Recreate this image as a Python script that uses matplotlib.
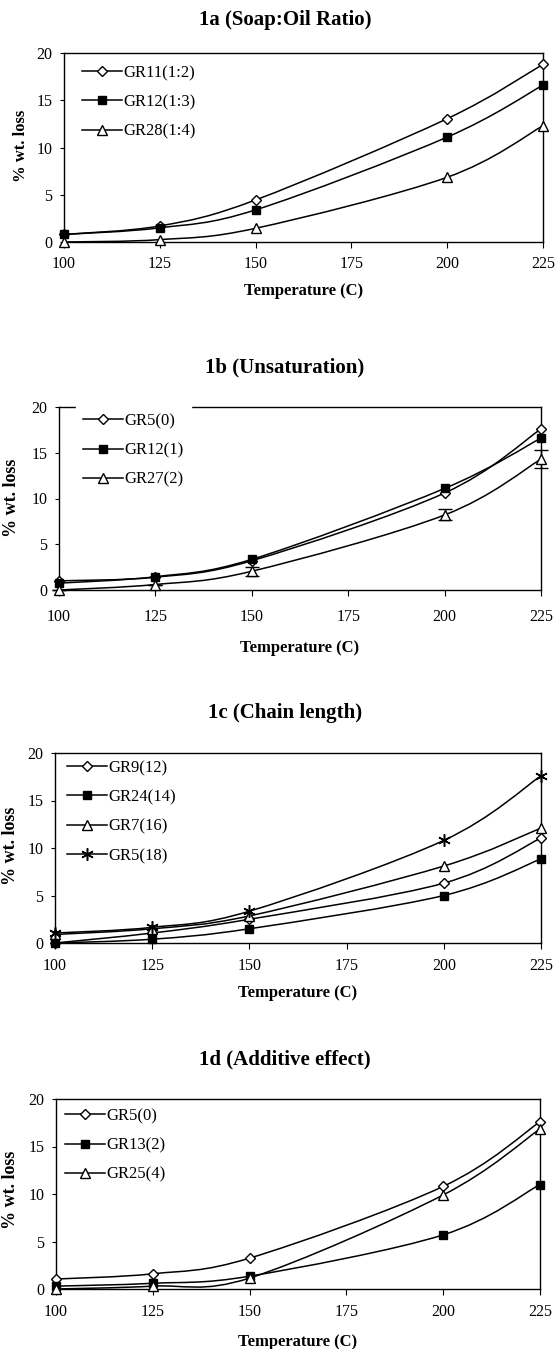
import matplotlib
matplotlib.use("Agg")
import matplotlib.pyplot as plt
from matplotlib.path import Path
from matplotlib.patches import PathPatch
from matplotlib.lines import Line2D
from matplotlib.transforms import Bbox, TransformedBbox

plt.rcParams['font.family'] = ['Liberation Serif', 'DejaVu Serif']

# ---------------- data ----------------
temps = [100, 125, 150, 200, 225]

# 1a Soap:Oil ratio
a_labels = ["GR11(1:2)", "GR12(1:3)", "GR28(1:4)"]
a_gr11 = [0.8, 1.7, 4.45, 13.05, 18.8]
a_gr12 = [0.8, 1.5, 3.4, 11.1, 16.6]
a_gr28 = [0.0, 0.25, 1.45, 6.85, 12.3]

# 1b Unsaturation
b_labels = ["GR5(0)", "GR12(1)", "GR27(2)"]
b_gr5 = [1.0, 1.4, 3.2, 10.6, 17.6]
b_gr12 = [0.75, 1.45, 3.35, 11.1, 16.6]
b_gr27 = [0.0, 0.6, 2.05, 8.2, 14.3]
b_gr27_err = [0.0, 0.0, 0.5, 0.6, 1.0]

# 1c Chain length
c_labels = ["GR9(12)", "GR24(14)", "GR7(16)", "GR5(18)"]
c_gr9 = [0.0, 1.05, 2.5, 6.3, 11.05]
c_gr24 = [0.0, 0.4, 1.5, 5.0, 8.85]
c_gr7 = [0.9, 1.5, 2.85, 8.1, 12.1]
c_gr5 = [1.05, 1.65, 3.35, 10.8, 17.6]

# 1d Additive effect
d_labels = ["GR5(0)", "GR13(2)", "GR25(4)"]
d_gr5 = [1.05, 1.6, 3.25, 10.8, 17.6]
d_gr13 = [0.3, 0.6, 1.35, 5.7, 11.0]
d_gr25 = [0.0, 0.3, 1.15, 9.9, 16.85]

titles = ["1a (Soap:Oil Ratio)", "1b (Unsaturation)", "1c (Chain length)", "1d (Additive effect)"]
xlabel = "Temperature (C)"
ylabel = "% wt. loss"
xticks = [100, 125, 150, 175, 200, 225]
yticks = [0, 5, 10, 15, 20]

# ---------------- layout (pixels) ----------------
W, H = 556, 1349
fig = plt.figure(figsize=(W / 100, H / 100), dpi=100)

panels = [
    dict(l=64, r=543, t=53, b=242, ty=20, xly=291, ylx=21, yly=146, xpad=6.0, yls=12),
    dict(l=59, r=541, t=407, b=590, ty=367, xly=648, ylx=12, yly=498, xpad=10.0, yls=13),
    dict(l=55, r=541, t=753, b=943, ty=713, xly=993, ylx=11, yly=846, xpad=6.5, yls=13),
    dict(l=56, r=540, t=1099, b=1289, ty=1059, xly=1342, ylx=11, yly=1190, xpad=6.5, yls=13),
]

legend_pos = [  # handle start offset from left spine (px), legend top offset from top spine (px)
    (18, 12), (24, 6), (12, 7), (9, 9)
]


def smooth_patch(ax, x, y, lw=1.1):
    n = len(x)
    verts = [(x[0], y[0])]
    codes = [Path.MOVETO]
    for i in range(n - 1):
        i0 = i - 1 if i > 0 else i
        i3 = i + 2 if i + 2 < n else i + 1
        c1 = (x[i] + (x[i + 1] - x[i0]) / 6.0, y[i] + (y[i + 1] - y[i0]) / 6.0)
        c2 = (x[i + 1] - (x[i3] - x[i]) / 6.0, y[i + 1] - (y[i3] - y[i]) / 6.0)
        verts += [c1, c2, (x[i + 1], y[i + 1])]
        codes += [Path.CURVE4, Path.CURVE4, Path.CURVE4]
    p = PathPatch(Path(verts, codes), fill=False, edgecolor='black', lw=lw,
                  transform=ax.transData, zorder=2, clip_on=False)
    ax.add_patch(p)


styles = {
    'D': dict(marker='D', markersize=5, markerfacecolor='white', markeredgecolor='black', markeredgewidth=1.0),
    's': dict(marker='s', markersize=6, markerfacecolor='black', markeredgecolor='black'),
    '^': dict(marker='^', markersize=7, markerfacecolor='white', markeredgecolor='black', markeredgewidth=1.0),
    '*': dict(marker=(6, 2, 0), markersize=9, markeredgecolor='black', markeredgewidth=1.1),
}

series = [
    [(a_gr11, 'D'), (a_gr12, 's'), (a_gr28, '^')],
    [(b_gr5, 'D'), (b_gr12, 's'), (b_gr27, '^')],
    [(c_gr9, 'D'), (c_gr24, 's'), (c_gr7, '^'), (c_gr5, '*')],
    [(d_gr5, 'D'), (d_gr13, 's'), (d_gr25, '^')],
]
labels = [a_labels, b_labels, c_labels, d_labels]

for k, pnl in enumerate(panels):
    ax = fig.add_axes([pnl['l'] / W, 1 - pnl['b'] / H, (pnl['r'] - pnl['l']) / W, (pnl['b'] - pnl['t']) / H])
    ax.set_xlim(100, 225)
    ax.set_ylim(0, 20)
    ax.set_xticks(xticks)
    ax.set_yticks(yticks)
    ax.tick_params(axis='x', direction='out', length=4, width=0.8, pad=pnl['xpad'], labelsize=11.5)
    ax.tick_params(axis='y', direction='out', length=3, width=0.8, pad=5.5, labelsize=11.5)
    for sp in ax.spines.values():
        sp.set_linewidth(1.0)
        sp.set_color('black')

    handles = []
    for (vals, m) in series[k]:
        smooth_patch(ax, temps, vals)
        ax.plot(temps, vals, linestyle='none', color='black', zorder=3, clip_on=False, **styles[m])
        handles.append(Line2D([], [], color='black', lw=1.1, **styles[m]))
    if k == 1:
        ax.errorbar(temps, b_gr27, yerr=b_gr27_err, fmt='none', ecolor='black', elinewidth=1.0,
                    capsize=5, capthick=1.0, zorder=2.5, clip_on=False)

    fs = 12
    fs_px = fs * 100 / 72
    hx, hy = legend_pos[k]
    pad = 0.45 if k == 1 else 0.0
    leg = ax.legend(handles, labels[k], loc='upper left', fontsize=fs,
                    bbox_to_anchor=((hx - pad * fs_px) / (pnl['r'] - pnl['l']),
                                    1 - (hy - pad * fs_px) / (pnl['b'] - pnl['t'])),
                    borderaxespad=0, borderpad=pad, handlelength=2.4, handletextpad=0.1,
                    labelspacing=0.8, frameon=(k == 1), fancybox=False)
    if k == 1:
        leg.get_frame().set_facecolor('white')
        leg.get_frame().set_edgecolor('white')
        leg.get_frame().set_alpha(1.0)
        leg.set_zorder(10)

    cx = (pnl['l'] + pnl['r']) / 2
    fig.text(285 / W, 1 - pnl['ty'] / H, titles[k], ha='center', va='center', fontsize=15, fontweight='bold')
    fig.text(cx / W, 1 - pnl['xly'] / H, xlabel, ha='center', va='center', fontsize=12, fontweight='bold')
    yl = fig.text(pnl['ylx'] / W, 1 - pnl['yly'] / H, ylabel, ha='center', va='center', rotation=90,
                  fontsize=pnl['yls'], fontweight='bold')
    if k == 2:
        yl.set_clip_box(TransformedBbox(Bbox([[0, 1 - 943 / H], [1, 1 - 803 / H]]), fig.transFigure))
        yl.set_clip_on(True)

fig.savefig("out.png", dpi=100)
